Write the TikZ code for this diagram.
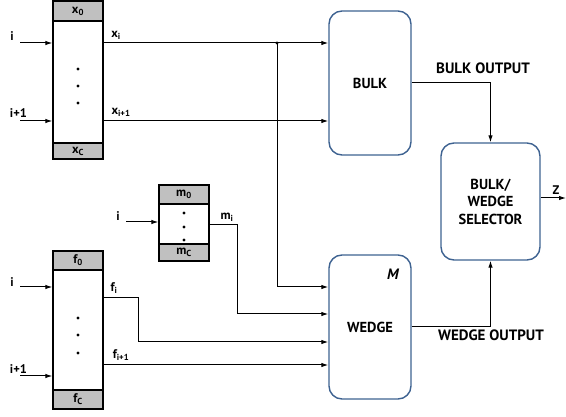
\documentclass[tikz,border=0pt]{standalone}
\usepackage{fontspec}
\setmainfont{PT Sans}
\usetikzlibrary{arrows.meta,positioning}
\definecolor{boxblue}{RGB}{62,98,145}
\definecolor{capgray}{RGB}{192,192,192}
\tikzset{>={Latex[length=7pt,width=4.5pt]}}

\begin{document}
\begin{tikzpicture}[x=1pt, y=-1pt,
    memcap/.style={draw, line width=1.3pt, fill=capgray, minimum width=50pt, inner sep=0pt, font=\bfseries\fontsize{12.5}{12.5}\selectfont},
    mem/.style={draw, line width=1.3pt, fill=white, minimum width=50pt, inner sep=0pt},
    block/.style={draw=boxblue, line width=1.4pt, rounded corners=13pt, minimum width=82pt, inner sep=0pt, align=center, font=\bfseries\fontsize{14.5}{17.5}\selectfont},
    lbl/.style={inner sep=0pt, font=\bfseries\fontsize{12.5}{12.5}\selectfont},
    biglbl/.style={inner sep=0pt, font=\bfseries\fontsize{15}{15}\selectfont},
    wire/.style={line width=1pt},
    >={Latex[length=7pt,width=4.5pt]}
  ]
    \useasboundingbox (0,0) rectangle (566,417);
    % processing blocks
    \node[block, minimum height=144pt] (bulk) at (370,83) {BULK};
    \node[block, minimum height=144pt] (wedge) at (370,327) {WEDGE};
    \node[block, minimum width=99pt, minimum height=117pt] (sel) at (490.5,201.5) {BULK/\\WEDGE\\SELECTOR};
    \node[biglbl, font=\bfseries\itshape\fontsize{15}{15}\selectfont] (mlbl) at (393,274) {M};

    % x memory
    \node[memcap, minimum height=20pt] (x0) at (78,11) {x\textsubscript{0}};
    \node[mem, minimum height=122pt] (xmem) at (78,82) {};
    \node[memcap, minimum height=16pt] (xc) at (78,151) {x\textsubscript{C}};
    \foreach \y in {69,86,103} \fill (78,\y) circle (1.6pt);

    % m memory
    \node[memcap, minimum height=19pt] (m0) at (184,194.5) {m\textsubscript{0}};
    \node[mem, minimum height=40pt] (mmem) at (184,224) {};
    \node[memcap, minimum height=17pt] (mc) at (184,252.5) {m\textsubscript{C}};
    \foreach \y in {213,227,240} \fill (184,\y) circle (1.6pt);

    % f memory
    \node[memcap, minimum height=19pt] (f0) at (78,260.5) {f\textsubscript{0}};
    \node[mem, minimum height=120pt] (fmem) at (78,330) {};
    \node[memcap, minimum height=19pt] (fc) at (78,399.5) {f\textsubscript{C}};
    \foreach \y in {318,335,353} \fill (78,\y) circle (1.6pt);

    % inputs
    \coordinate (xin1) at (20,43);
    \coordinate (xin2) at (20,121);
    \coordinate (min1) at (126,222);
    \coordinate (fin1) at (20,287);
    \coordinate (fin2) at (20,376);
    \draw[wire,->] (xin1) -- (xin1 -| xmem.west);
    \draw[wire,->] (xin2) -- (xin2 -| xmem.west);
    \draw[wire,->] (min1) -- (min1 -| mmem.west);
    \draw[wire,->] (fin1) -- (fin1 -| fmem.west);
    \draw[wire,->] (fin2) -- (fin2 -| fmem.west);
    \node[lbl] (xil1) at (12,36) {i};
    \node[lbl] (xil2) at (18.5,113) {i+1};
    \node[lbl] (mil1) at (118,216) {i};
    \node[lbl] (fil1) at (12,282) {i};
    \node[lbl] (fil2) at (18.5,369) {i+1};

    % outputs to bulk / wedge
    \coordinate (jn) at (277,43);
    \draw[wire,->] (xmem.east |- xin1) -- (xin1 -| bulk.west);
    \draw[wire,->] (xmem.east |- xin2) -- (xin2 -| bulk.west);
    \fill (jn) circle (1.6pt);
    \draw[wire,->] (jn) |- (wedge.west |- fin1);
    \draw[wire,->] (mmem.east |- 0,225) -- ++(28,0) |- (wedge.west |- 0,314);
    \draw[wire,->] (fmem.east |- 0,298) -- ++(35,0) |- (wedge.west |- 0,342);
    \draw[wire,->] (fmem.east |- 0,365) -- (wedge.west |- 0,365);
    \node[lbl] (xol1) at (116,35) {x\textsubscript{i}};
    \node[lbl] (xol2) at (121,112) {x\textsubscript{i+1}};
    \node[lbl] (mol1) at (227,217) {m\textsubscript{i}};
    \node[lbl] (fol1) at (114,288) {f\textsubscript{i}};
    \node[lbl] (fol2) at (121,355) {f\textsubscript{i+1}};

    % selector
    \coordinate (zout) at (566,198);
    \draw[wire,->] (bulk.east) -| (sel.north);
    \draw[wire,->] (wedge.east) -| (sel.south);
    \draw[wire,->] (sel.east |- zout) -- (zout);
    \node[biglbl] (bulkout) at (483,68) {BULK OUTPUT};
    \node[biglbl] (wedgeout) at (491,335) {WEDGE OUTPUT};
    \node[lbl] (zlbl) at (556,190) {Z};
\end{tikzpicture}
\end{document}
